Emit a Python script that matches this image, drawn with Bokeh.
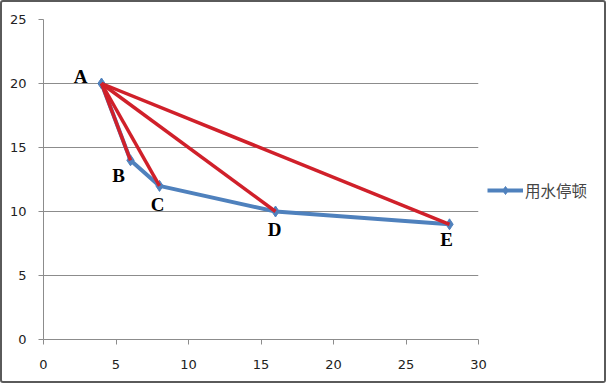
from bokeh.plotting import figure
from bokeh.layouts import row
from bokeh.models import ColumnDataSource, Legend, LegendItem, FixedTicker, Range1d, LabelSet
from bokeh.embed import file_html
from bokeh.resources import INLINE

# data
names = ["A", "B", "C", "D", "E"]
xs = [4, 6, 8, 16, 28]
ys = [20, 14, 12, 10, 9]
series_name = "用水停顿"
x_ticks = [0, 5, 10, 15, 20, 25, 30]
y_ticks = [0, 5, 10, 15, 20, 25]

# label offsets in screen px (style)
lab_dx = [-21, -12, -2, -1, -3]
lab_dy = [7, -15, -19, -18, -15]

blue = "#4f81bd"
red = "#d0202a"

p = figure(frame_width=435, frame_height=320, output_backend="svg", toolbar_location=None,
           x_range=Range1d(0, 30), y_range=Range1d(0, 25),
           min_border_left=41, min_border_right=9, min_border_top=17, min_border_bottom=42)
p.outline_line_color = None
p.background_fill_color = "white"
p.border_fill_color = "white"

p.xgrid.visible = False
p.ygrid.grid_line_color = "#8c8c8c"
p.ygrid.grid_line_width = 1
p.yaxis.ticker = FixedTicker(ticks=y_ticks)
p.xaxis.ticker = FixedTicker(ticks=x_ticks)
for ax in (p.xaxis[0], p.yaxis[0]):
    ax.axis_line_color = "#8c8c8c"
    ax.major_tick_line_color = "#8c8c8c"
    ax.minor_tick_line_color = None
    ax.major_tick_out = 5
    ax.major_tick_in = 0
    ax.major_label_text_font = "DejaVu Sans"
    ax.major_label_text_font_size = "13px"
    ax.major_label_text_color = "#222222"
p.xaxis.major_label_standoff = 15
p.yaxis.major_label_standoff = 12

src = ColumnDataSource(dict(x=xs, y=ys, name=names, dx=lab_dx, dy=lab_dy))

bl = p.line("x", "y", source=src, line_color=blue, line_width=4)
bm = p.scatter("x", "y", source=src, marker="diamond", size=11, fill_color=blue, line_color=blue)

# red lines from A to each other point
for i in range(1, len(xs)):
    p.line([xs[0], xs[i]], [ys[0], ys[i]], line_color=red, line_width=3.5)

labels = LabelSet(x="x", y="y", text="name", source=src, x_offset="dx", y_offset="dy",
                  text_font="Liberation Serif", text_font_style="bold", text_font_size="19px",
                  text_align="center", text_baseline="middle", text_color="black")
p.add_layout(labels)

# legend panel (separate small figure)
q = figure(width=117, height=379, output_backend="svg", toolbar_location=None,
           x_range=Range1d(0, 1), y_range=Range1d(0, 1),
           min_border=0, min_border_left=0, min_border_right=0, min_border_top=0, min_border_bottom=0)
q.axis.visible = False
q.grid.visible = False
q.outline_line_color = None
q.border_fill_color = "white"
q.background_fill_color = "white"
ql = q.line([float("nan")], [float("nan")], line_color=blue, line_width=4)
qm = q.scatter([float("nan")], [float("nan")], marker="diamond", size=11, fill_color=blue, line_color=blue)
legend = Legend(items=[LegendItem(label=series_name, renderers=[ql, qm])],
                location=(0, 138), padding=0, margin=0, glyph_width=36, label_standoff=2,
                border_line_color=None, background_fill_alpha=0,
                label_text_font="Noto Sans CJK SC", label_text_font_size="15.5px")
q.add_layout(legend, "center")

layout = row(p, q, spacing=0)
layout.styles = {"border": "2px solid #5a5a5a", "border-radius": "3px"}

open("out.html", "w").write(file_html(layout, INLINE))
